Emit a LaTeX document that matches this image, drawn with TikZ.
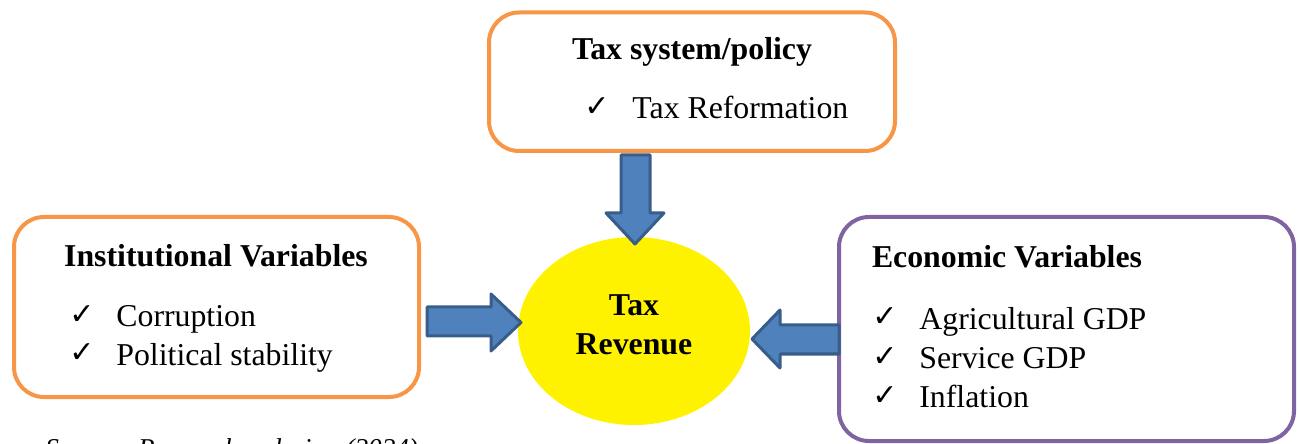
\documentclass[tikz,border=0pt]{standalone}
\usepackage{fontspec}
\setmainfont{Liberation Serif}
\newfontfamily\symfont{DejaVu Sans}
\usetikzlibrary{shapes.geometric}
\definecolor{boxorange}{HTML}{F79646}
\definecolor{boxpurple}{HTML}{8064A2}
\definecolor{arrowfill}{HTML}{4F81BD}
\definecolor{arrowline}{HTML}{385D8A}
\begin{document}
\begin{tikzpicture}[x=0.5pt,y=-0.5pt,
  panel/.style={draw, line width=2pt, rounded corners=15pt, fill=white, inner sep=0pt},
  heading/.style={font=\fontsize{15.9}{19}\selectfont\bfseries, anchor=base, inner sep=0pt},
  item/.style={font=\fontsize{15.9}{19}\selectfont, anchor=base west, inner sep=0pt},
  tick/.style={font=\symfont\bfseries\fontsize{15}{17}\selectfont, anchor=base west, inner sep=0pt},
  blockarrow/.style={fill=arrowfill, draw=arrowline, line width=1.5pt, line join=round},
]
\useasboundingbox (0,0) rectangle (1298,444);
\clip (0,0) rectangle (1298,444);

% the three groups of determinants
\node[panel, draw=boxorange, minimum width=203pt, minimum height=69.25pt] (policy) at (692,81.75) {};
\node[panel, draw=boxorange, minimum width=202.5pt, minimum height=90pt] (inst) at (216.5,307) {};
\node[panel, draw=boxpurple, minimum width=227.5pt, minimum height=112pt] (econ) at (1066.5,329) {};

% outcome
\node[ellipse, fill=yellow, inner sep=0pt, minimum width=116pt, minimum height=94pt] (revenue) at (634,331) {};
\node[heading] (revTax) at (634,315) {Tax};
\node[heading] (revRev) at (634,355) {Revenue};

% block arrows towards the outcome
\draw[blockarrow] (621,155) -- (650,155) -- (650,213) -- (664,213) -- (635,244)
  -- (606,213) -- (621,213) -- cycle;
\draw[blockarrow] (427,307) -- (491,307) -- (491,294) -- (521,322.5) -- (491,351)
  -- (491,336) -- (427,336) -- cycle;
\draw[blockarrow] (839,325) -- (780,325) -- (780,310) -- (752,339) -- (780,368)
  -- (780,354) -- (839,354) -- cycle;

% tax system / policy
\node[heading] (policyHead) at (692,60) {Tax system/policy};
\node[tick] (policyTick1) at (584,117) {✓};
\node[item] (policyItem1) at (632,119) {Tax Reformation};

% institutional variables
\node[heading] (instHead) at (216,267) {Institutional Variables};
\node[tick] (instTick1) at (69,325) {✓};
\node[item] (instItem1) at (116,327) {Corruption};
\node[tick] (instTick2) at (69,363) {✓};
\node[item] (instItem2) at (116,365) {Political stability};

% economic variables
\node[heading] (econHead) at (1007,268) {Economic Variables};
\node[tick] (econTick1) at (872,327) {✓};
\node[item] (econItem1) at (919,329) {Agricultural GDP};
\node[tick] (econTick2) at (872,366) {✓};
\node[item] (econItem2) at (919,368) {Service GDP};
\node[tick] (econTick3) at (872,406) {✓};
\node[item] (econItem3) at (919,408) {Inflation};

% source line, running off the lower edge
\node[anchor=base west, inner sep=0pt, font=\itshape\fontsize{13.6}{16}\selectfont] (source) at (45,457) {Source: Researcher design (2024)};
\end{tikzpicture}
\end{document}
